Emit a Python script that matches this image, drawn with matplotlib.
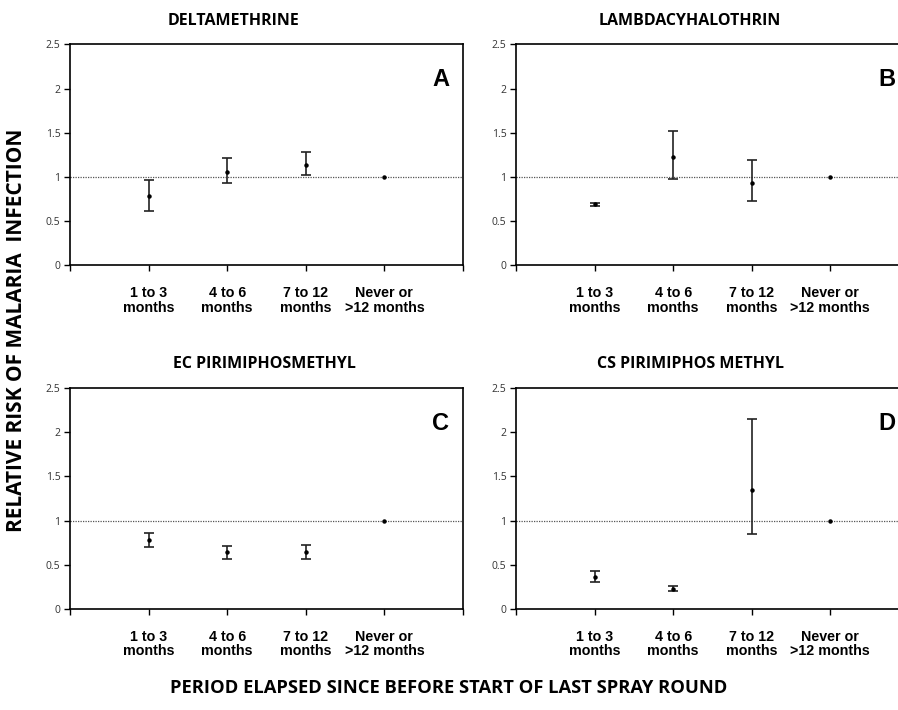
import matplotlib
matplotlib.use("Agg")
import matplotlib.pyplot as plt

# categories (position 0 and 5 left empty as in the original layout)
categories = ["1 to 3\nmonths", "4 to 6\nmonths", "7 to 12\nmonths", "Never or\n>12 months"]
titles = ["DELTAMETHRINE", "LAMBDACYHALOTHRIN", "EC PIRIMIPHOSMETHYL", "CS PIRIMIPHOS METHYL"]
letters = ["A", "B", "C", "D"]

# relative risk and 95% CI bounds
rr_a = [0.78, 1.06, 1.14, 1.0]
lo_a = [0.62, 0.93, 1.02, 1.0]
hi_a = [0.97, 1.21, 1.28, 1.0]

rr_b = [0.69, 1.22, 0.93, 1.0]
lo_b = [0.67, 0.98, 0.73, 1.0]
hi_b = [0.71, 1.52, 1.19, 1.0]

rr_c = [0.78, 0.64, 0.64, 1.0]
lo_c = [0.70, 0.57, 0.57, 1.0]
hi_c = [0.86, 0.71, 0.72, 1.0]

rr_d = [0.36, 0.23, 1.35, 1.0]
lo_d = [0.31, 0.20, 0.85, 1.0]
hi_d = [0.43, 0.26, 2.15, 1.0]

panels = [(rr_a, lo_a, hi_a), (rr_b, lo_b, hi_b), (rr_c, lo_c, hi_c), (rr_d, lo_d, hi_d)]

fig = plt.figure(figsize=(8.98, 7.10), dpi=100)

w, h = 0.4376, 0.3113
positions = [(0.078, 0.6263), (0.5746, 0.6263), (0.078, 0.1423), (0.5746, 0.1423)]
# title centres as placed in the original (axes fraction)
title_x = [0.415, 0.443, 0.494, 0.443]

x = [1, 2, 3, 4]
for i, (rr, lo, hi) in enumerate(panels):
    ax = fig.add_axes([positions[i][0], positions[i][1], w, h])
    ax.axhline(1, color="#555555", lw=0.9, ls=(0, (1, 1)), zorder=1)
    for xi, r, l, u in zip(x, rr, lo, hi):
        if u > l:
            ax.errorbar([xi], [r], yerr=[[r - l], [u - r]], fmt="o", ms=2.2, color="black",
                        ecolor="#222222", elinewidth=1.2, capsize=3.5, capthick=1.2, zorder=3)
        else:
            ax.plot([xi], [r], "o", ms=2.2, color="black", zorder=3)
    ax.set_xlim(0, 5)
    ax.set_ylim(0, 2.5)
    ax.set_yticks([0, 0.5, 1, 1.5, 2, 2.5])
    ax.set_yticklabels(["0", "0.5", "1", "1.5", "2", "2.5"], fontsize=7.5, color="#333333",
                       fontfamily="Open Sans")
    ax.set_xticks([0, 1, 2, 3, 4, 5])
    ax.set_xticklabels([""] + categories + [""], fontsize=10.3, fontweight="bold",
                       fontfamily="Liberation Sans", linespacing=1.05)
    ax.tick_params(axis="x", direction="out", length=4, width=1, pad=11)
    ax.tick_params(axis="y", direction="out", length=4, width=1, pad=3)
    for s in ax.spines.values():
        s.set_linewidth(1.2)
        s.set_color("black")
    ax.set_title(titles[i], x=title_x[i], fontsize=11.5, fontweight="bold",
                 fontfamily="Open Sans", pad=14)
    ax.text(0.965, 0.84, letters[i], transform=ax.transAxes, ha="right", va="center",
            fontsize=17, fontweight="bold", fontfamily="Liberation Sans")

fig.text(0.018, 0.535, "RELATIVE RISK OF MALARIA  INFECTION", rotation=90, ha="center",
         va="center", fontsize=15, fontweight="bold", fontfamily="Open Sans")
fig.text(0.5, 0.031, "PERIOD ELAPSED SINCE BEFORE START OF LAST SPRAY ROUND", ha="center",
         va="center", fontsize=13.2, fontweight="bold", fontfamily="Open Sans")

fig.savefig("out.png", dpi=100)
